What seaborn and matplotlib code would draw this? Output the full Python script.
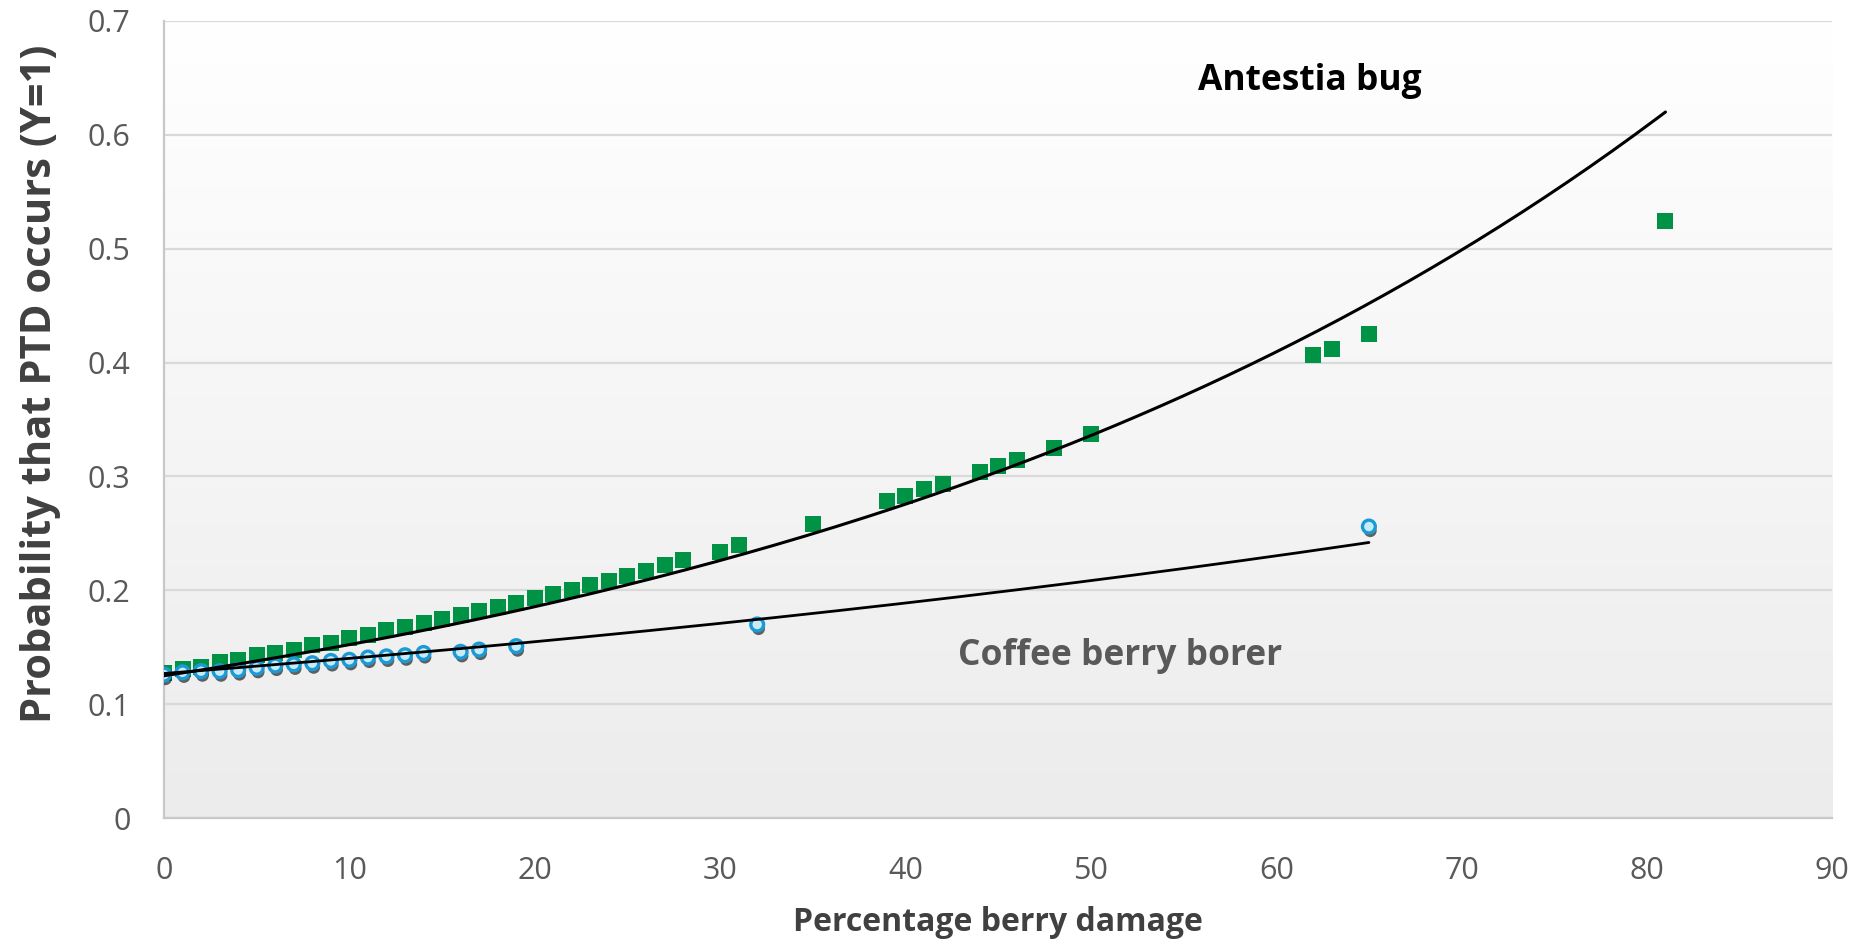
import numpy as np
import pandas as pd
import seaborn as sns
import matplotlib.pyplot as plt
import matplotlib.patheffects as pe
from matplotlib.colors import LinearSegmentedColormap

sns.set_theme(style="white")
plt.rcParams['font.family'] = ['Open Sans', 'DejaVu Sans']

# Antestia bug - predicted probabilities (green squares)
ant_x = [0, 1, 2, 3, 4, 5, 6, 7, 8, 9, 10, 11, 12, 13, 14, 15, 16, 17, 18, 19,
         20, 21, 22, 23, 24, 25, 26, 27, 28, 30, 31, 35, 39, 40, 41, 42, 44, 45,
         46, 48, 50, 62, 63, 65, 81]
ant_y = [0.127, 0.131, 0.133, 0.137, 0.139, 0.143, 0.145, 0.148, 0.152, 0.154,
         0.158, 0.161, 0.165, 0.168, 0.171, 0.175, 0.178, 0.182, 0.185, 0.189,
         0.193, 0.197, 0.200, 0.205, 0.208, 0.213, 0.217, 0.222, 0.227, 0.234,
         0.240, 0.258, 0.278, 0.283, 0.289, 0.293, 0.304, 0.309, 0.314, 0.325,
         0.337, 0.407, 0.412, 0.425, 0.524]

# Coffee berry borer - predicted probabilities (blue circles)
cbb_x = [0, 1, 2, 3, 4, 5, 6, 7, 8, 9, 10, 11, 12, 13, 14, 16, 17, 19, 32, 65]
cbb_y = [0.126, 0.128, 0.129, 0.129, 0.130, 0.132, 0.134, 0.135, 0.136, 0.138,
         0.139, 0.141, 0.142, 0.143, 0.145, 0.146, 0.148, 0.151, 0.170, 0.256]

# exponential trendlines y = a * exp(b * x), and their x range
ant_trend = [0.125, 0.01977]
ant_trend_range = [0, 81]
cbb_trend = [0.127, 0.00992]
cbb_trend_range = [0, 65]

df_ant = pd.DataFrame({'x': ant_x, 'y': ant_y})
df_cbb = pd.DataFrame({'x': cbb_x, 'y': cbb_y})

tx = np.linspace(*ant_trend_range, 200)
df_ant_t = pd.DataFrame({'x': tx, 'y': ant_trend[0] * np.exp(ant_trend[1] * tx)})
tx = np.linspace(*cbb_trend_range, 200)
df_cbb_t = pd.DataFrame({'x': tx, 'y': cbb_trend[0] * np.exp(cbb_trend[1] * tx)})

fig = plt.figure(figsize=(18.64, 9.48), dpi=100)
ax = fig.add_axes([0.088, 0.137, 0.895, 0.841])

# plot area gradient (white at top -> light grey at bottom)
grad = LinearSegmentedColormap.from_list('bg', ['#ffffff', '#ececec'])
ax.imshow(np.linspace(0, 1, 256).reshape(-1, 1), extent=[0, 1, 0, 1],
          transform=ax.transAxes, cmap=grad, aspect='auto', zorder=-2)

sns.scatterplot(data=df_ant, x='x', y='y', marker='s', s=130, color='#009245',
                edgecolor='#009245', linewidth=0, ax=ax, zorder=3)
sns.scatterplot(data=df_cbb, x='x', y='y', marker='o', s=85, color='#c6ecfa',
                edgecolor='#1b9ad6', linewidth=2.4, ax=ax, zorder=4)
ax.collections[-1].set_path_effects([
    pe.SimplePatchShadow(offset=(1, -3), shadow_rgbFace='black', alpha=0.6),
    pe.Normal()])

sns.lineplot(data=df_ant_t, x='x', y='y', color='black', lw=2.2, ax=ax, zorder=5)
sns.lineplot(data=df_cbb_t, x='x', y='y', color='black', lw=2.0, ax=ax, zorder=5)

ax.text(61.8, 0.647, 'Antestia bug', fontsize=25.5, fontweight='bold',
        color='black', ha='center', va='center')
ax.text(51.6, 0.142, 'Coffee berry borer', fontsize=25.5, fontweight='bold',
        color='#595959', ha='center', va='center')

ax.set_xlim(0, 90)
ax.set_ylim(0, 0.7)
ax.set_xticks(np.arange(0, 91, 10))
ax.set_yticks(np.arange(0, 0.71, 0.1))
ax.set_yticklabels(['0', '0.1', '0.2', '0.3', '0.4', '0.5', '0.6', '0.7'])
ax.tick_params(axis='both', length=0, labelsize=22, labelcolor='#595959')
ax.tick_params(axis='x', pad=27)
ax.tick_params(axis='y', pad=24)

ax.yaxis.grid(True, color='#d9d9d9', lw=1.6)
ax.xaxis.grid(False)
ax.set_axisbelow(True)
for s in ['top', 'right']:
    ax.spines[s].set_visible(False)
for s in ['left', 'bottom']:
    ax.spines[s].set_color('#c8c8c8')
    ax.spines[s].set_linewidth(1.6)

ax.set_xlabel('Percentage berry damage', fontsize=23, fontweight='bold',
              color='#404040', labelpad=15)
ax.set_ylabel('Probability that PTD occurs (Y=1)', fontsize=30, fontweight='bold',
              color='#404040')
ax.yaxis.set_label_coords(-0.062, 0.545)

fig.savefig('out.png', dpi=100)
